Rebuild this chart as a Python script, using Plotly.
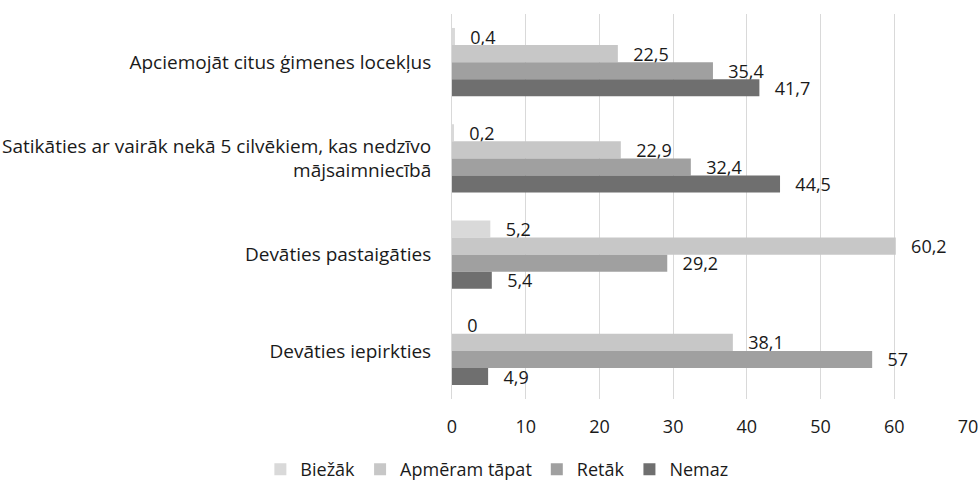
import plotly.graph_objects as go

categories = [
    "Apciemojāt citus ģimenes locekļus",
    "Satikāties ar vairāk nekā 5 cilvēkiem, kas nedzīvo<br>mājsaimniecībā",
    "Devāties pastaigāties",
    "Devāties iepirkties",
]
series_names = ["Biežāk", "Apmēram tāpat", "Retāk", "Nemaz"]
biezak = [0.4, 0.2, 5.2, 0]
apmeram = [22.5, 22.9, 60.2, 38.1]
retak = [35.4, 32.4, 29.2, 57]
nemaz = [41.7, 44.5, 5.4, 4.9]
colors = ["#d9d9d9", "#c7c7c7", "#a0a0a0", "#6f6f6f"]
x_ticks = [0, 10, 20, 30, 40, 50, 60, 70]

FONT = "Open Sans"
PAD = "\u00a0\u00a0\u2009"

def fmt(v):
    s = ("%g" % v)
    return PAD + s.replace(".", ",")

fig = go.Figure()
for name, vals, col in zip(series_names, [biezak, apmeram, retak, nemaz], colors):
    fig.add_trace(go.Bar(
        y=categories, x=vals, name=name, orientation="h",
        marker=dict(color=col, line=dict(width=0)),
        text=[fmt(v) for v in vals], textposition="outside", textangle=0,
        constraintext="none",
        textfont=dict(size=18, color="#1a1a1a", family=FONT),
        cliponaxis=False,
    ))

fig.update_layout(
    width=980, height=484,
    margin=dict(l=452, r=12, t=14, b=85, autoexpand=False),
    paper_bgcolor="white", plot_bgcolor="white",
    barmode="group", bargap=0.29, bargroupgap=0,
    font=dict(family=FONT, size=18, color="#1a1a1a"),
    legend=dict(orientation="h", xref="container", yref="container",
                x=0.507, xanchor="center", y=0.03, yanchor="middle",
                font=dict(size=18, family=FONT), itemwidth=30,
                traceorder="normal"),
    showlegend=True,
)
fig.update_xaxes(range=[0, 70], tickvals=x_ticks, showgrid=True, gridcolor="#d9d9d9",
                 gridwidth=1, zeroline=False, showline=False, ticks="",
                 tickfont=dict(size=18, family=FONT), ticklabelstandoff=15)
fig.update_yaxes(autorange="reversed", showgrid=False, showline=True, linecolor="#d9d9d9",
                 linewidth=1, ticks="", tickfont=dict(size=19, family=FONT),
                 ticklabelstandoff=16)

fig.write_html("out.html", config={"displayModeBar": False},
               post_script="document.body.style.margin='0px';")
